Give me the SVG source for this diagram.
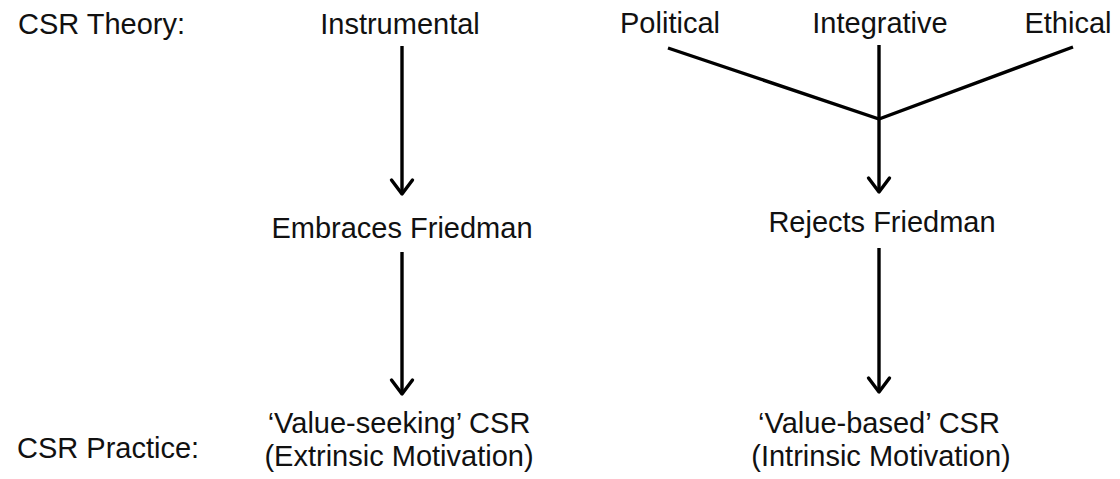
<svg xmlns="http://www.w3.org/2000/svg" width="1120" height="479" viewBox="0 0 1120 479">
<style>
text{font-family:"Liberation Sans",Arial,Helvetica,sans-serif;font-size:29px;fill:#111}
.m{text-anchor:middle}
.ln{stroke:#000;stroke-width:3.4;fill:none;stroke-linecap:butt}
</style>
<defs>
<marker id="arr" markerUnits="userSpaceOnUse" markerWidth="30" markerHeight="30" refX="15" refY="11" viewBox="0 0 30 22" orient="auto" overflow="visible">
<path d="M1,0.5 L15,11 L1,21.5" fill="none" stroke="#000" stroke-width="3.4" stroke-linejoin="round" stroke-linecap="round"/>
</marker>
</defs>
<rect width="1120" height="479" fill="#fff"/>
<g id="labels">
<text x="18" y="34">CSR Theory:</text>
<text x="17" y="458">CSR Practice:</text>
</g>
<g id="instrumental"><text class="m" x="400" y="34">Instrumental</text></g>
<g id="political"><text class="m" x="670" y="33">Political</text></g>
<g id="integrative"><text class="m" x="880" y="33">Integrative</text></g>
<g id="ethical"><text class="m" x="1068" y="33">Ethical</text></g>
<g id="embraces"><text class="m" x="402" y="238">Embraces Friedman</text></g>
<g id="rejects"><text class="m" x="882" y="232">Rejects Friedman</text></g>
<g id="value-seeking">
<text class="m" x="399" y="433">‘Value-seeking’ CSR</text>
<text class="m" x="399" y="466">(Extrinsic Motivation)</text>
</g>
<g id="value-based">
<text class="m" x="879" y="433">‘Value-based’ CSR</text>
<text class="m" x="881" y="466">(Intrinsic Motivation)</text>
</g>
<g id="connectors">
<line class="ln" x1="402" y1="46" x2="402" y2="194" marker-end="url(#arr)"/>
<line class="ln" x1="402" y1="252" x2="402" y2="394" marker-end="url(#arr)"/>
<polyline class="ln" points="668,48 879,119 1073,47" stroke-linejoin="miter"/>
<line class="ln" x1="879" y1="45" x2="879" y2="192" marker-end="url(#arr)"/>
<line class="ln" x1="879" y1="248" x2="879" y2="392" marker-end="url(#arr)"/>
</g>
</svg>
